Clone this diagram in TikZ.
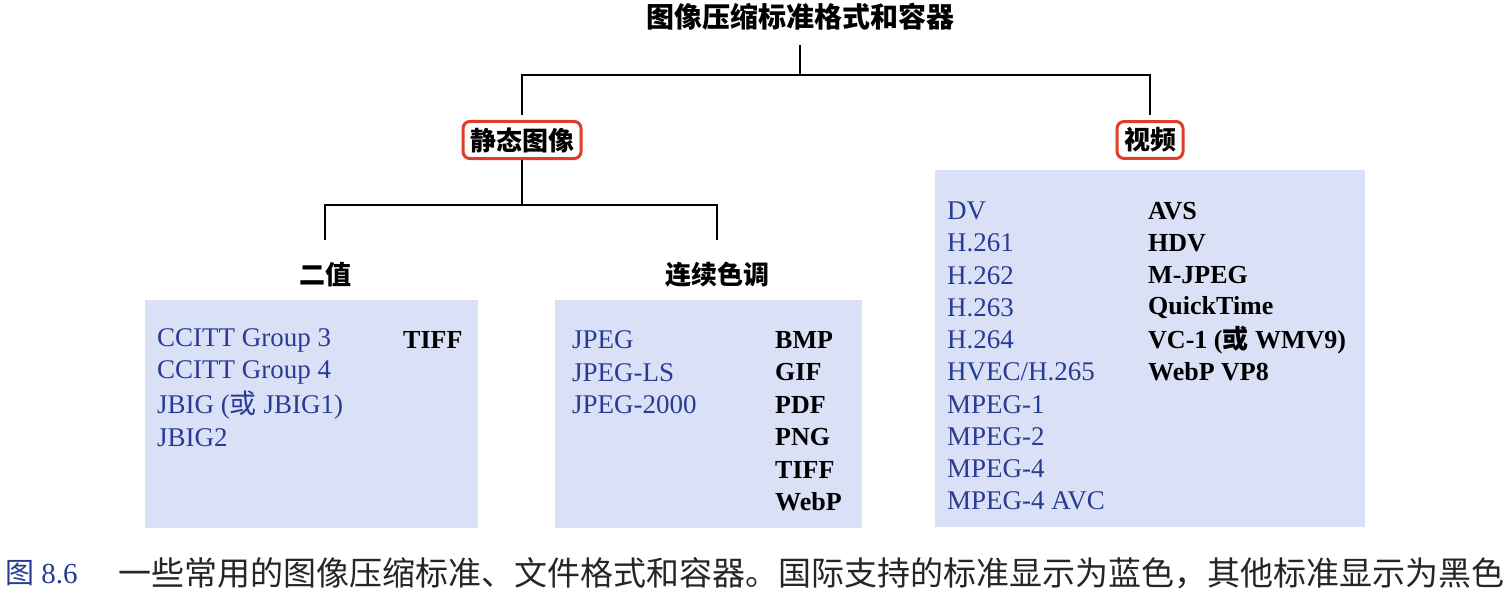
\documentclass[tikz,border=0pt]{standalone}
\usepackage{fontspec}
\setmainfont{Liberation Serif}
\newfontfamily\cjk{Noto Sans CJK SC}
\definecolor{boxbg}{RGB}{218,224,246}
\definecolor{txtblue}{RGB}{40,60,150}
\definecolor{redbox}{RGB}{222,62,40}
\begin{document}
\begin{tikzpicture}[x=1pt,y=-1pt,
  lbl/.style={font=\bfseries\fontsize{26}{30}\selectfont,anchor=west,inner sep=0pt},
  bl/.style={lbl,font=\fontsize{27}{30}\selectfont,text=txtblue},
  hd/.style={font=\cjk\bfseries\fontsize{26}{30}\selectfont,inner sep=2pt},
  rb/.style={hd,draw=redbox,line width=3pt,rounded corners=7pt,inner xsep=7pt,inner ysep=6pt},
  ln/.style={line width=1.5pt,black}]
\useasboundingbox (0,0) rectangle (1512,594);
\fill[boxbg] (145,300) rectangle (478,528);
\fill[boxbg] (555,300) rectangle (862,528);
\fill[boxbg] (935,170) rectangle (1365,527);
\node[hd,font=\cjk\bfseries\fontsize{28}{30}\selectfont] (root) at (800,17) {图像压缩标准格式和容器};
\node[rb] (still) at (522,140) {静态图像};
\node[rb] (video) at (1150,140) {视频};
\node[hd] (bin) at (325,275) {二值};
\node[hd] (cont) at (717,275) {连续色调};
\coordinate (r1) at (800,75);
\draw[ln] (800,45) -- (r1);
\draw[ln] (still.north |- 0,115) -- (still.north |- r1) -- (video.north |- r1) -- (video.north |- 0,115);
\draw[ln] (still.south) -- (522,205);
\draw[ln] (bin.north |- 0,240) -- (bin.north |- 0,205) -- (cont.north |- 0,205) -- (cont.north |- 0,240);
\foreach \t [count=\i from 0] in {CCITT Group 3,CCITT Group 4,{JBIG ({\cjk 或} JBIG1)},JBIG2}
  \node[bl] (l\i) at (157,340+32.4*\i) {\t};
\node[lbl] (tiff1) at (403,340) {TIFF};
\foreach \t [count=\i from 0] in {JPEG,JPEG-LS,JPEG-2000}
  \node[bl] (m\i) at (572,340+32.4*\i) {\t};
\foreach \t [count=\i from 0] in {BMP,GIF,PDF,PNG,TIFF,WebP}
  \node[lbl] (n\i) at (775,340+32.4*\i) {\t};
\foreach \t [count=\i from 0] in {DV,H.261,H.262,H.263,H.264,HVEC/H.265,MPEG-1,MPEG-2,MPEG-4,MPEG-4 AVC}
  \node[bl] (v\i) at (947,211+32.2*\i) {\t};
\foreach \t [count=\i from 0] in {AVS,HDV,M-JPEG,QuickTime,{VC-1 ({\cjk\bfseries 或} WMV9)},WebP VP8}
  \node[lbl] (w\i) at (1148,211+32.2*\i) {\t};
\node[lbl,text=txtblue,font=\fontsize{29}{30}\selectfont] (cap1) at (5,573) {{\cjk 图} 8.6};
\node[lbl,font=\cjk\fontsize{33}{36}\selectfont,text=black!85] (cap2) at (118,573) {一些常用的图像压缩标准、文件格式和容器。国际支持的标准显示为蓝色，其他标准显示为黑色};
\end{tikzpicture}
\end{document}
